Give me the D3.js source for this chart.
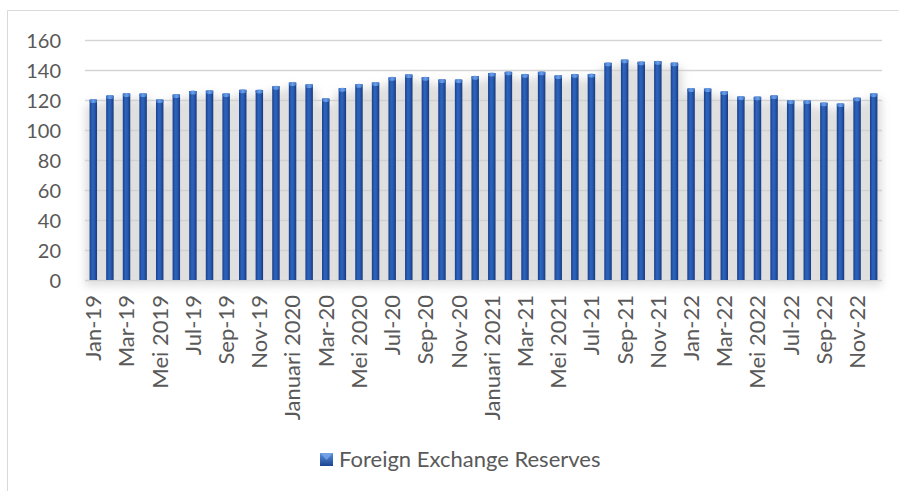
<!DOCTYPE html>
<html>
<head>
<meta charset="utf-8">
<script src="https://cdn.jsdelivr.net/npm/d3@7/dist/d3.min.js"></script>
<style>
  html, body { margin: 0; padding: 0; background: #fff; }
  svg { display: block; }
  text { font-family: Lato, "Open Sans", sans-serif; fill: #595959; }
</style>
</head>
<body>
<svg id="chart" width="899" height="491"></svg>
<script>
const categories = [
  "Jan-19","Feb-19","Mar-19","Apr-19","Mei 2019","Jun-19","Jul-19","Aug-19","Sep-19","Oct-19","Nov-19","Dec-19",
  "Januari 2020","Feb-20","Mar-20","Apr-20","Mei 2020","Jun-20","Jul-20","Aug-20","Sep-20","Oct-20","Nov-20","Dec-20",
  "Januari 2021","Feb-21","Mar-21","Apr-21","Mei 2021","Jun-21","Jul-21","Aug-21","Sep-21","Oct-21","Nov-21","Dec-21",
  "Jan-22","Feb-22","Mar-22","Apr-22","Mei 2022","Jun-22","Jul-22","Aug-22","Sep-22","Oct-22","Nov-22","Dec-22"
];
const reserves = [
  120.3,123.0,124.4,124.3,120.3,123.7,126.0,126.3,124.3,126.8,126.7,129.2,
  131.7,130.4,121.0,127.9,130.5,131.7,135.1,137.0,135.2,133.7,133.6,135.9,
  138.0,138.8,137.1,138.8,136.4,137.1,137.3,144.8,146.9,145.5,145.9,144.9,
  127.7,127.6,125.7,122.3,122.2,123.0,119.7,119.6,118.2,117.6,121.5,124.3
];
const yTicks = [0,20,40,60,80,100,120,140,160];
const seriesName = "Foreign Exchange Reserves";

const svg = d3.select("#chart");
const defs = svg.append("defs");

const g1 = defs.append("linearGradient").attr("id","barGrad").attr("x1","0").attr("x2","1").attr("y1","0").attr("y2","0");
g1.append("stop").attr("offset","0%").attr("stop-color","#173f86");
g1.append("stop").attr("offset","35%").attr("stop-color","#2d62bd");
g1.append("stop").attr("offset","60%").attr("stop-color","#2a5db5");
g1.append("stop").attr("offset","100%").attr("stop-color","#163a7c");

const capG = defs.append("linearGradient").attr("id","capGrad").attr("x1","0").attr("x2","1").attr("y1","0").attr("y2","0");
capG.append("stop").attr("offset","0%").attr("stop-color","#3a72cc");
capG.append("stop").attr("offset","50%").attr("stop-color","#6b9fe6");
capG.append("stop").attr("offset","100%").attr("stop-color","#3a72cc");

const blur = defs.append("filter").attr("id","shadowBlur").attr("x","-50%").attr("y","-20%").attr("width","200%").attr("height","140%");
blur.append("feGaussianBlur").attr("stdDeviation","4");

const lg = defs.append("linearGradient").attr("id","legGrad").attr("x1","0").attr("x2","0").attr("y1","0").attr("y2","1");
lg.append("stop").attr("offset","0%").attr("stop-color","#5b8fdc");
lg.append("stop").attr("offset","100%").attr("stop-color","#1c4590");

svg.append("path")
  .attr("d","M7.5,491 L7.5,10.5 L898.5,10.5")
  .attr("fill","none").attr("stroke","#d9d9d9").attr("stroke-width",1);

const plotLeft = 85, plotRight = 882, plotTop = 40, plotBottom = 280;

const x = d3.scaleBand().domain(categories).range([plotLeft, plotRight]).paddingInner(0.55).paddingOuter(0.275);
const y = d3.scaleLinear().domain([0,160]).range([plotBottom, plotTop]);

const shadowG = svg.append("g").attr("filter","url(#shadowBlur)");
shadowG.selectAll("rect").data(reserves).enter().append("rect")
  .attr("x",(d,i)=> x(categories[i]) - x.bandwidth()*0.55)
  .attr("y",d=> y(d)+5)
  .attr("width", x.bandwidth()*2.1)
  .attr("height",d=> plotBottom - y(d) + 1)
  .attr("fill","#cfcfcf").attr("opacity",0.7);

svg.append("g").selectAll("line").data(yTicks).enter().append("line")
  .attr("x1",plotLeft).attr("x2",plotRight)
  .attr("y1",d=>Math.round(y(d))+0.5).attr("y2",d=>Math.round(y(d))+0.5)
  .attr("stroke","#d0d0d0").attr("stroke-width",1.5).attr("opacity",0.9);

const yAxis = d3.axisLeft(y).tickValues(yTicks).tickSize(0).tickPadding(0);
const ya = svg.append("g").attr("transform",`translate(61,0)`).call(yAxis);
ya.select(".domain").remove();
ya.selectAll("text").style("font-size","20px").style("font-family","Lato, sans-serif").attr("fill","#595959").attr("dy","0.36em");

const bars = svg.append("g");
bars.selectAll("rect").data(reserves).enter().append("rect")
  .attr("x",(d,i)=> x(categories[i]))
  .attr("y",d=> y(d))
  .attr("width", x.bandwidth())
  .attr("height",d=> plotBottom - y(d))
  .attr("fill","url(#barGrad)");
bars.selectAll("ellipse").data(reserves).enter().append("ellipse")
  .attr("cx",(d,i)=> x(categories[i]) + x.bandwidth()/2)
  .attr("cy",d=> y(d)+1.5)
  .attr("rx", x.bandwidth()/2)
  .attr("ry", 2)
  .attr("fill","url(#capGrad)");

const xAxis = d3.axisBottom(x)
  .tickValues(categories.filter((d,i)=> i%2===0))
  .tickSize(0).tickPadding(0);
const xa = svg.append("g").attr("transform",`translate(0,${plotBottom})`).call(xAxis);
xa.select(".domain").remove();
xa.selectAll("text")
  .style("font-size","22px").style("font-family","Lato, sans-serif").attr("fill","#595959")
  .attr("text-anchor","end")
  .attr("transform","rotate(-90)")
  .attr("x",-15).attr("y",0).attr("dy","0.36em");

const leg = svg.append("g").attr("transform","translate(320,453)");
leg.append("rect").attr("x",0).attr("y",0).attr("width",13).attr("height",13).attr("fill","url(#legGrad)");
leg.append("path").attr("d","M0,0 L13,0 L6.5,7 Z").attr("fill","#7aa8ea").attr("opacity",0.8);
leg.append("text").attr("x",19).attr("y",6.5).attr("dy","0.36em")
  .style("font-size","22px").text(seriesName);
</script>
</body>
</html>
